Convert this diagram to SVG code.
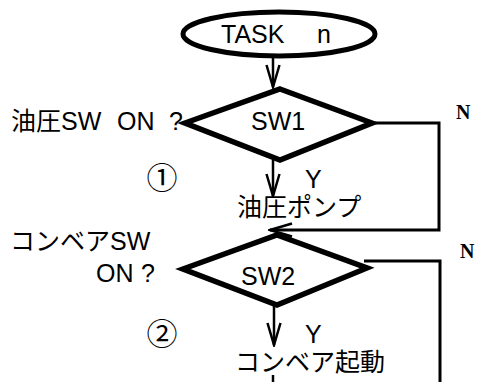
<svg xmlns="http://www.w3.org/2000/svg" width="477" height="382" viewBox="0 0 477 382">
  <style>
    .shape { fill: #fff; stroke: #000; }
    .t { font-family: "Liberation Sans", "Noto Sans CJK JP", sans-serif; font-size: 25px; fill: #000; }
    .c { font-family: "Noto Sans CJK JP", sans-serif; font-size: 31px; fill: #000; }
    .n { font-family: "Liberation Serif", serif; font-size: 20px; font-weight: bold; fill: #000; }
    .wire { fill: none; stroke: #000; stroke-width: 3; }
    .flow { fill: none; stroke: #000; stroke-width: 2.5; }
  </style>
  <defs>
    <marker id="arr" markerUnits="userSpaceOnUse" markerWidth="26" markerHeight="16" viewBox="0 0 26 16" refX="24" refY="8" orient="auto">
      <path d="M2,1.5 L24,8 L2,14.5" fill="none" stroke="#000" stroke-width="2.5"/>
    </marker>
  </defs>
  <rect width="477" height="382" fill="#fff"/>

  <!-- flow lines -->
  <g id="connectors">
    <path class="flow" d="M273,53 V87" marker-end="url(#arr)"/>
    <path class="flow" d="M273,160 V196" marker-end="url(#arr)"/>
    <path class="wire" d="M370,123 H439 V230 H270" marker-end="url(#arr)"/>
    <path class="wire" d="M364,261 H440 V382"/>
    <path class="flow" d="M274,305 V345" marker-end="url(#arr)"/>
    <path class="flow" d="M273,375 V382"/>
  </g>

  <g id="task">
    <ellipse class="shape" cx="279" cy="34" rx="96" ry="22" stroke-width="5"/>
    <text class="t" x="221" y="43">TASK</text>
    <text class="t" x="317" y="43">n</text>
  </g>

  <g id="sw1">
    <polygon class="shape" points="280,89 372,123 280,160 185,123" stroke-width="5.5" stroke-linejoin="miter"/>
    <text class="t" x="251" y="130">SW1</text>
  </g>

  <g id="pump">
    <text class="t" x="237" y="216">油圧ポンプ</text>
  </g>

  <g id="sw2">
    <polygon class="shape" points="277,235 367,268 277,305 183,269" stroke-width="5.5" stroke-linejoin="miter"/>
    <text class="t" x="241" y="285">SW2</text>
  </g>

  <g id="conveyor">
    <text class="t" x="235" y="371" font-size="24.5">コンベア起動</text>
  </g>

  <!-- branch labels -->
  <g id="labels">
    <text class="t" y="130"><tspan x="11">油圧SW</tspan><tspan x="117">ON</tspan><tspan x="169">?</tspan></text>
    <text class="t" x="10" y="250">コンベアSW</text>
    <text class="t" y="282"><tspan x="96">ON</tspan><tspan x="141">?</tspan></text>
    <text class="c" x="162" y="189" text-anchor="middle">①</text>
    <text class="c" x="162" y="345" text-anchor="middle">②</text>
    <text class="t" x="305" y="188">Y</text>
    <text class="t" x="305" y="343">Y</text>
    <text class="n" x="456" y="119">N</text>
    <text class="n" x="460" y="258">N</text>
  </g>
</svg>
